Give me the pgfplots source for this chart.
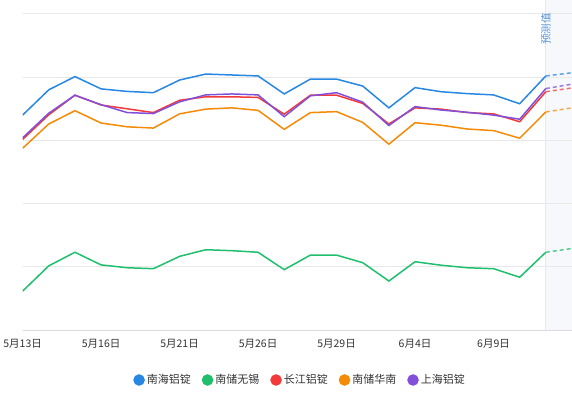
\documentclass[border=0pt]{standalone}
\usepackage{fontspec}
\setmainfont{Noto Sans CJK SC}
\usepackage{pgfplots}
\pgfplotsset{compat=1.18}
\definecolor{cblue}{HTML}{2787E3}
\definecolor{cgreen}{HTML}{1FBF6E}
\definecolor{cred}{HTML}{F23A3A}
\definecolor{corange}{HTML}{F58A07}
\definecolor{cpurple}{HTML}{8250D8}
\definecolor{gridc}{HTML}{E8E8E8}
\definecolor{axisc}{HTML}{DCDCDC}
\definecolor{fcbg}{HTML}{F6F8FC}
\definecolor{fctext}{HTML}{5B95D6}
\definecolor{txt}{HTML}{333333}
\begin{document}
\begin{tikzpicture}
\begin{axis}[name=ax, scale only axis, width=549.4bp, height=330bp,
  xmin=0, xmax=21, ymin=19800, ymax=20844.3,
  axis x line*=bottom, axis y line*=left,
  y axis line style={draw=none},
  x axis line style={draw=axisc, line width=1bp},
  ytick=\empty,
  major tick length=0pt,
  xtick={0,3,6,9,12,15,18},
  xticklabels={5月13日,5月16日,5月21日,5月26日,5月29日,6月4日,6月9日},
  xticklabel style={font=\fontsize{10.5bp}{12bp}\selectfont, text=txt, yshift=-6bp},
  legend style={at={(0.505,-0.1515)}, anchor=center, draw=none, fill=none,
    legend columns=5, font=\fontsize{11bp}{12bp}\selectfont, text=txt,
    /tikz/every even column/.append style={column sep=9bp}},
  legend image code/.code={\fill[#1] (5bp,0bp) circle (5bp);},
  every axis plot/.append style={line width=1.5bp, mark=none},
]
\fill[fcbg] (axis cs:20,19800) rectangle (axis cs:21,20844.3);
\pgfplotsinvokeforeach{20000,20200,20400,20600,20800}{
  \draw[gridc, line width=1bp] (axis cs:0,#1) -- (axis cs:21,#1);
}
\draw[gridc, line width=1bp] (axis cs:20,19800) -- (axis cs:20,20844.3);
\node[rotate=90, text=fctext, font=\fontsize{10.5bp}{12bp}\selectfont] at (axis cs:20,20752) {预测值};

\addplot[cblue] coordinates {(0,20480)(1,20560)(2,20602)(3,20563)(4,20555)(5,20551)(6,20591)(7,20610)(8,20607)(9,20604)(10,20547)(11,20594)(12,20594)(13,20572)(14,20503)(15,20567)(16,20554)(17,20548)(18,20544)(19,20516)(20,20604)};
\addlegendentry{南海铝锭}
\addplot[cgreen] coordinates {(0,19923)(1,20003)(2,20046)(3,20006)(4,19997)(5,19994)(6,20033)(7,20054)(8,20051)(9,20046)(10,19991)(11,20037)(12,20037)(13,20013)(14,19955)(15,20016)(16,20005)(17,19997)(18,19994)(19,19967)(20,20046)};
\addlegendentry{南储无锡}
\addplot[cred] coordinates {(0,20403)(1,20481)(2,20543)(3,20512)(4,20500)(5,20488)(6,20527)(7,20538)(8,20538)(9,20536)(10,20483)(11,20543)(12,20543)(13,20517)(14,20452)(15,20503)(16,20499)(17,20488)(18,20484)(19,20459)(20,20554)};
\addlegendentry{长江铝锭}
\addplot[corange] coordinates {(0,20375)(1,20452)(2,20494)(3,20455)(4,20443)(5,20439)(6,20484)(7,20499)(8,20503)(9,20495)(10,20435)(11,20488)(12,20491)(13,20457)(14,20388)(15,20456)(16,20448)(17,20436)(18,20431)(19,20407)(20,20490)};
\addlegendentry{南储华南}
\addplot[cpurple] coordinates {(0,20408)(1,20486)(2,20543)(3,20513)(4,20488)(5,20485)(6,20522)(7,20544)(8,20547)(9,20544)(10,20475)(11,20541)(12,20551)(13,20521)(14,20447)(15,20507)(16,20496)(17,20489)(18,20480)(19,20467)(20,20564)};
\addlegendentry{上海铝锭}

\addplot[cblue, opacity=0.75, dash pattern=on 4bp off 3bp, forget plot] coordinates {(20,20604)(21,20614)};
\addplot[cgreen, opacity=0.75, dash pattern=on 4bp off 3bp, forget plot] coordinates {(20,20046)(21,20058)};
\addplot[cred, opacity=0.75, dash pattern=on 4bp off 3bp, forget plot] coordinates {(20,20554)(21,20566)};
\addplot[corange, opacity=0.75, dash pattern=on 4bp off 3bp, forget plot] coordinates {(20,20490)(21,20503)};
\addplot[cpurple, opacity=0.75, dash pattern=on 4bp off 3bp, forget plot] coordinates {(20,20564)(21,20578)};
\end{axis}
\pgfresetboundingbox
\path ([xshift=-22.6bp,yshift=-74bp]ax.south west) rectangle (ax.north east);
\end{tikzpicture}
\end{document}
